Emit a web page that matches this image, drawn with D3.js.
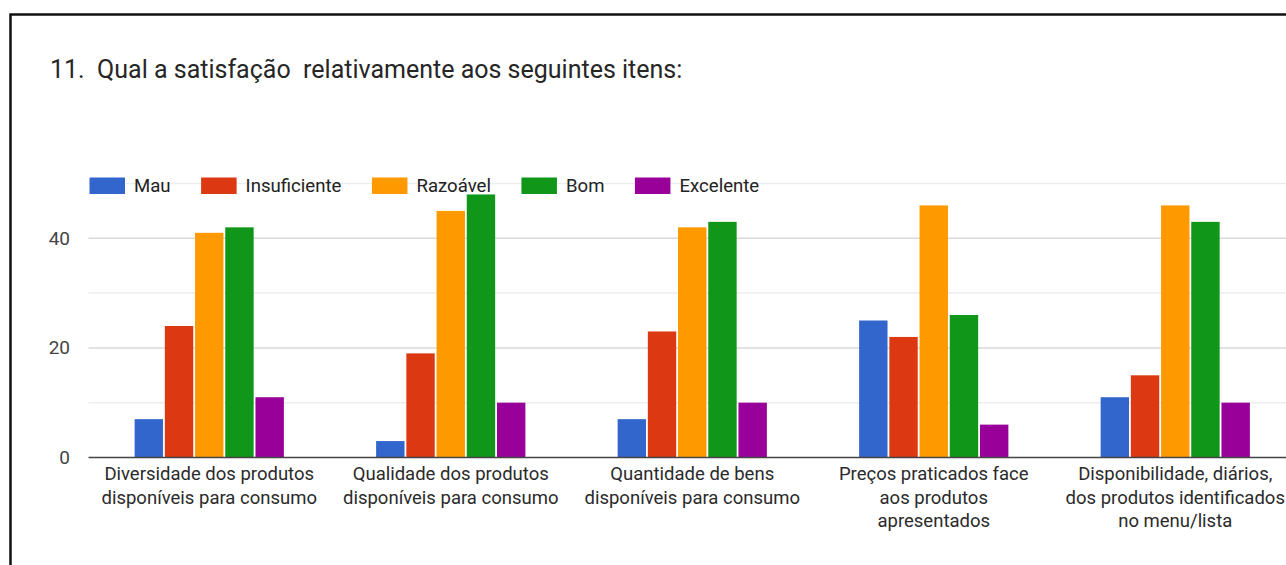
<!DOCTYPE html>
<html>
<head>
<meta charset="utf-8">
<script src="https://cdn.jsdelivr.net/npm/d3@7"></script>
<style>
  html, body { margin: 0; padding: 0; background: #fff; }
  svg { display: block; font-family: Roboto, "Noto Sans", Arial, sans-serif; }
</style>
</head>
<body>
<svg id="chart" width="1286" height="565"></svg>
<script>
// Survey question 11: satisfaction with the listed items
const categories = [
  "Diversidade dos produtos disponíveis para consumo",
  "Qualidade dos produtos disponíveis para consumo",
  "Quantidade de bens disponíveis para consumo",
  "Preços praticados face aos produtos apresentados",
  "Disponibilidade, diários, dos produtos identificados no menu/lista"
];
// Wrapped axis label lines for each category
const categoryLines = [
  ["Diversidade dos produtos", "disponíveis para consumo"],
  ["Qualidade dos produtos", "disponíveis para consumo"],
  ["Quantidade de bens", "disponíveis para consumo"],
  ["Preços praticados face", "aos produtos", "apresentados"],
  ["Disponibilidade, diários,", "dos produtos identificados", "no menu/lista"]
];
const seriesNames = ["Mau", "Insuficiente", "Razoável", "Bom", "Excelente"];
const mau          = [7, 3, 7, 25, 11];
const insuficiente = [24, 19, 23, 22, 15];
const razoavel     = [41, 45, 42, 46, 46];
const bom          = [42, 48, 43, 26, 43];
const excelente    = [11, 10, 10, 6, 10];
const seriesValues = [mau, insuficiente, razoavel, bom, excelente];
const seriesColors = ["#3366cc", "#dc3912", "#ff9900", "#109618", "#990099"];
const yTickLabels = [0, 20, 40];
const yGridTicks = [10, 20, 30, 40, 50];

const titleText = "11.\u00a0 Qual a satisfação\u00a0 relativamente aos seguintes itens:";

const svg = d3.select("#chart");

// Card border (continues beyond the visible area on the right and bottom)
svg.append("rect")
  .attr("x", 10.5).attr("y", 14.5)
  .attr("width", 1400).attr("height", 700)
  .attr("fill", "none").attr("stroke", "#111").attr("stroke-width", 2.5);

svg.append("text")
  .attr("x", 50).attr("y", 78)
  .attr("font-size", 25).attr("fill", "#262626")
  .text(titleText);

// Plot area
const plotLeft = 88.5, plotRight = 1296;
const y = d3.scaleLinear().domain([0, 50]).range([457.5, 183.5]);
const x0 = d3.scaleBand().domain(categories).range([plotLeft, plotRight])
  .paddingInner(0.382).paddingOuter(0.191);
const x1 = d3.scaleBand().domain(seriesNames).range([0, x0.bandwidth()])
  .paddingInner(0.06);

// Gridlines
const grid = svg.append("g");
grid.selectAll("line").data(yGridTicks).join("line")
  .attr("x1", plotLeft).attr("x2", 1286)
  .attr("y1", d => y(d)).attr("y2", d => y(d))
  .attr("stroke", d => d % 20 === 0 ? "#d9d9d9" : "#ededed")
  .attr("stroke-width", 1.5);

// Y axis labels
const yAxis = d3.axisLeft(y).tickValues(yTickLabels).tickSize(0).tickPadding(0);
const yG = svg.append("g").attr("transform", "translate(70,0)").call(yAxis);
yG.select(".domain").remove();
yG.selectAll("text")
  .attr("font-size", 19).attr("fill", "#444")
  .attr("font-family", "Roboto, 'Noto Sans', Arial, sans-serif");

// Bars
const groups = svg.append("g").selectAll("g").data(categories).join("g")
  .attr("transform", d => `translate(${x0(d)},0)`);
groups.selectAll("rect")
  .data((c, ci) => seriesNames.map((s, si) => ({ s, si, v: seriesValues[si][ci] })))
  .join("rect")
  .attr("x", d => x1(d.s))
  .attr("width", x1.bandwidth())
  .attr("y", d => y(d.v))
  .attr("height", d => y(0) - y(d.v))
  .attr("fill", d => seriesColors[d.si]);

// Baseline
svg.append("line")
  .attr("x1", plotLeft).attr("x2", 1286)
  .attr("y1", y(0)).attr("y2", y(0))
  .attr("stroke", "#444").attr("stroke-width", 1.5);

// Category labels
const catG = svg.append("g");
categories.forEach((c, i) => {
  const cx = x0(c) + x0.bandwidth() / 2;
  const t = catG.append("text")
    .attr("text-anchor", "middle")
    .attr("font-size", 18.5).attr("fill", "#2a2a2a");
  categoryLines[i].forEach((line, li) => {
    t.append("tspan").attr("x", cx).attr("y", 480 + li * 23.5).text(line);
  });
});

// Legend
const legend = svg.append("g");
let lx = 89.5;
seriesNames.forEach((name, i) => {
  legend.append("rect")
    .attr("x", lx).attr("y", 177.5)
    .attr("width", 35.5).attr("height", 16.5)
    .attr("fill", seriesColors[i]);
  const t = legend.append("text")
    .attr("x", lx + 44.5).attr("y", 186)
    .attr("dominant-baseline", "central")
    .attr("font-size", 18.6).attr("fill", "#222")
    .text(name);
  lx += 44.5 + t.node().getComputedTextLength() + 30.5;
});
</script>
</body>
</html>
